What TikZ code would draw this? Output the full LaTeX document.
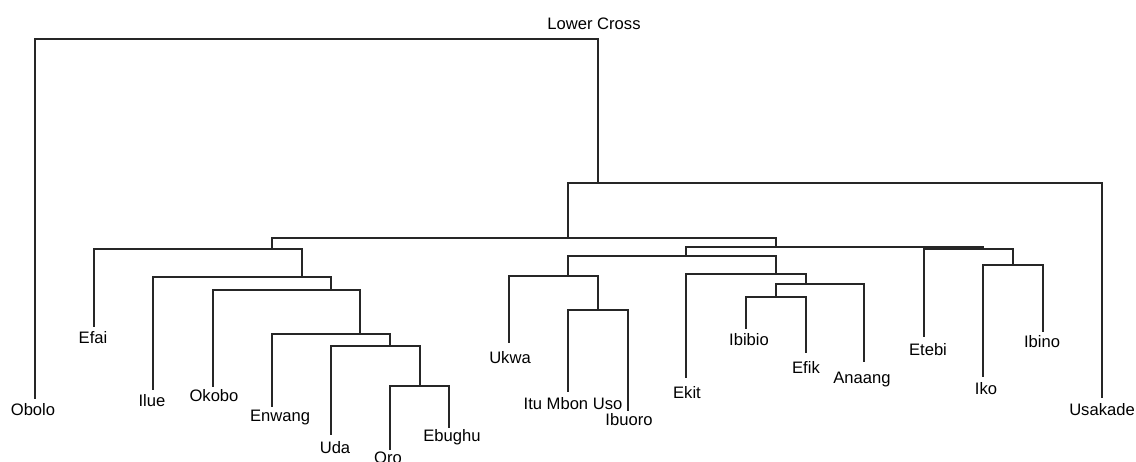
\documentclass[tikz,border=0pt]{standalone}
\usepackage{fontspec}
\setmainfont{Liberation Sans}
\begin{document}
\begin{tikzpicture}[x=1pt,y=-1pt,
  branch/.style={draw=black!85,line width=1.1pt},
  leaf/.style={anchor=base,inner sep=0pt,font=\fontsize{16.6}{20}\selectfont}]
\useasboundingbox (0,0) rectangle (1136,461);
% internal nodes
\coordinate (root) at (594,39);
\coordinate (A) at (598,183);
\coordinate (B) at (568,238);
\coordinate (C) at (272,249);
\coordinate (E) at (302,277);
\coordinate (F) at (331,290);
\coordinate (G) at (360,334);
\coordinate (H) at (390,346);
\coordinate (I) at (420,386);
\coordinate (D) at (776,247);
\coordinate (J) at (686,256);
\coordinate (L) at (568,276);
\coordinate (N) at (598,310);
\coordinate (M) at (776,274);
\coordinate (O) at (806,284);
\coordinate (P) at (776,297);
\coordinate (K) at (983,249);
\coordinate (Q) at (1013,265);
% leaf tips
\coordinate (tObolo) at (35,399);
\coordinate (tEfai) at (94,327);
\coordinate (tIlue) at (153,390);
\coordinate (tOkobo) at (213,387);
\coordinate (tEnwang) at (272,407);
\coordinate (tUda) at (331,435);
\coordinate (tOro) at (390,450);
\coordinate (tEbughu) at (449,428);
\coordinate (tUkwa) at (509,343);
\coordinate (tItu) at (568,392);
\coordinate (tIbuoro) at (628,411);
\coordinate (tEkit) at (686,378);
\coordinate (tIbibio) at (746,329);
\coordinate (tEfik) at (806,353);
\coordinate (tAnaang) at (864,362);
\coordinate (tEtebi) at (924,337);
\coordinate (tIko) at (983,377);
\coordinate (tIbino) at (1043,332);
\coordinate (tUsakade) at (1102,398);
% labels
\node[leaf] (lroot) at (594,29) {Lower Cross};
\node[leaf] (Obolo) at (33,415) {Obolo};
\node[leaf] (Efai) at (93,343) {Efai};
\node[leaf] (Ilue) at (152,406) {Ilue};
\node[leaf] (Okobo) at (214,401) {Okobo};
\node[leaf] (Enwang) at (280,421) {Enwang};
\node[leaf] (Uda) at (335,453) {Uda};
\node[leaf] (Oro) at (388,463) {Oro};
\node[leaf] (Ebughu) at (452,441) {Ebughu};
\node[leaf] (Ukwa) at (510,363) {Ukwa};
\node[leaf] (Itu) at (573,409) {Itu Mbon Uso};
\node[leaf] (Ibuoro) at (629,425) {Ibuoro};
\node[leaf] (Ekit) at (687,398) {Ekit};
\node[leaf] (Ibibio) at (749,345) {Ibibio};
\node[leaf] (Efik) at (806,373) {Efik};
\node[leaf] (Anaang) at (862,383) {Anaang};
\node[leaf] (Etebi) at (928,355) {Etebi};
\node[leaf] (Iko) at (986,394) {Iko};
\node[leaf] (Ibino) at (1042,347) {Ibino};
\node[leaf] (Usakade) at (1102,415) {Usakade};
% branches
\draw[branch] (root) -| (tObolo);
\draw[branch] (root) -| (A);
\draw[branch] (A) -| (B);
\draw[branch] (A) -| (tUsakade);
\draw[branch] (B) -| (C);
\draw[branch] (B) -| (D);
\draw[branch] (C) -| (tEfai);
\draw[branch] (C) -| (E);
\draw[branch] (E) -| (tIlue);
\draw[branch] (E) -| (F);
\draw[branch] (F) -| (tOkobo);
\draw[branch] (F) -| (G);
\draw[branch] (G) -| (tEnwang);
\draw[branch] (G) -| (H);
\draw[branch] (H) -| (tUda);
\draw[branch] (H) -| (I);
\draw[branch] (I) -| (tOro);
\draw[branch] (I) -| (tEbughu);
\draw[branch] (D) -| (J);
\draw[branch] (D) -| (K);
\draw[branch] (J) -| (L);
\draw[branch] (J) -| (M);
\draw[branch] (L) -| (tUkwa);
\draw[branch] (L) -| (N);
\draw[branch] (N) -| (tItu);
\draw[branch] (N) -| (tIbuoro);
\draw[branch] (M) -| (tEkit);
\draw[branch] (M) -| (O);
\draw[branch] (O) -| (P);
\draw[branch] (O) -| (tAnaang);
\draw[branch] (P) -| (tIbibio);
\draw[branch] (P) -| (tEfik);
\draw[branch] (K) -| (tEtebi);
\draw[branch] (K) -| (Q);
\draw[branch] (Q) -| (tIko);
\draw[branch] (Q) -| (tIbino);
\end{tikzpicture}
\end{document}
